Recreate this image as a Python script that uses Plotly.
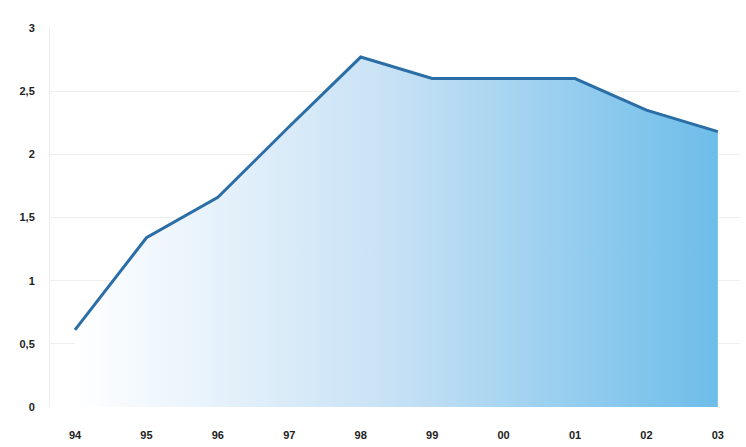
import plotly.graph_objects as go

years = ["94", "95", "96", "97", "98", "99", "00", "01", "02", "03"]
values = [0.61, 1.34, 1.66, 2.22, 2.77, 2.60, 2.60, 2.60, 2.35, 2.18]
y_ticks = [0, 0.5, 1, 1.5, 2, 2.5, 3]
y_labels = ["0", "0,5", "1", "1,5", "2", "2,5", "3"]

x_idx = list(range(len(years)))

fig = go.Figure()
fig.add_trace(go.Scatter(
    x=x_idx, y=values, mode="lines",
    line=dict(color="#2b6ea6", width=3),
    fill="tozeroy",
    fillgradient=dict(type="horizontal",
                      colorscale=[[0, "rgba(255,255,255,1)"], [0.5, "#c6e1f5"], [1, "#6dbde9"]]),
    hoverinfo="skip",
))

fig.update_layout(
    width=746, height=447,
    margin=dict(l=50, r=6, t=28, b=40),
    paper_bgcolor="white", plot_bgcolor="white",
    showlegend=False,
    font=dict(family="Liberation Sans", size=11, color="#222222"),
)
fig.update_xaxes(
    range=[-0.35, 9.31], tickvals=x_idx, ticktext=years,
    showgrid=False, zeroline=False, showline=False,
    tickfont=dict(size=11, weight="bold", color="#222222"),
    ticklabelstandoff=20,
)
fig.update_yaxes(
    range=[0, 3], tickvals=y_ticks, ticktext=y_labels,
    showgrid=True, gridcolor="#eeeeee", gridwidth=1,
    zeroline=False, showline=True, linecolor="#eeeeee",
    tickfont=dict(size=11, weight="bold", color="#222222"),
    ticklabelstandoff=12,
)

fig.write_html("out.html")
